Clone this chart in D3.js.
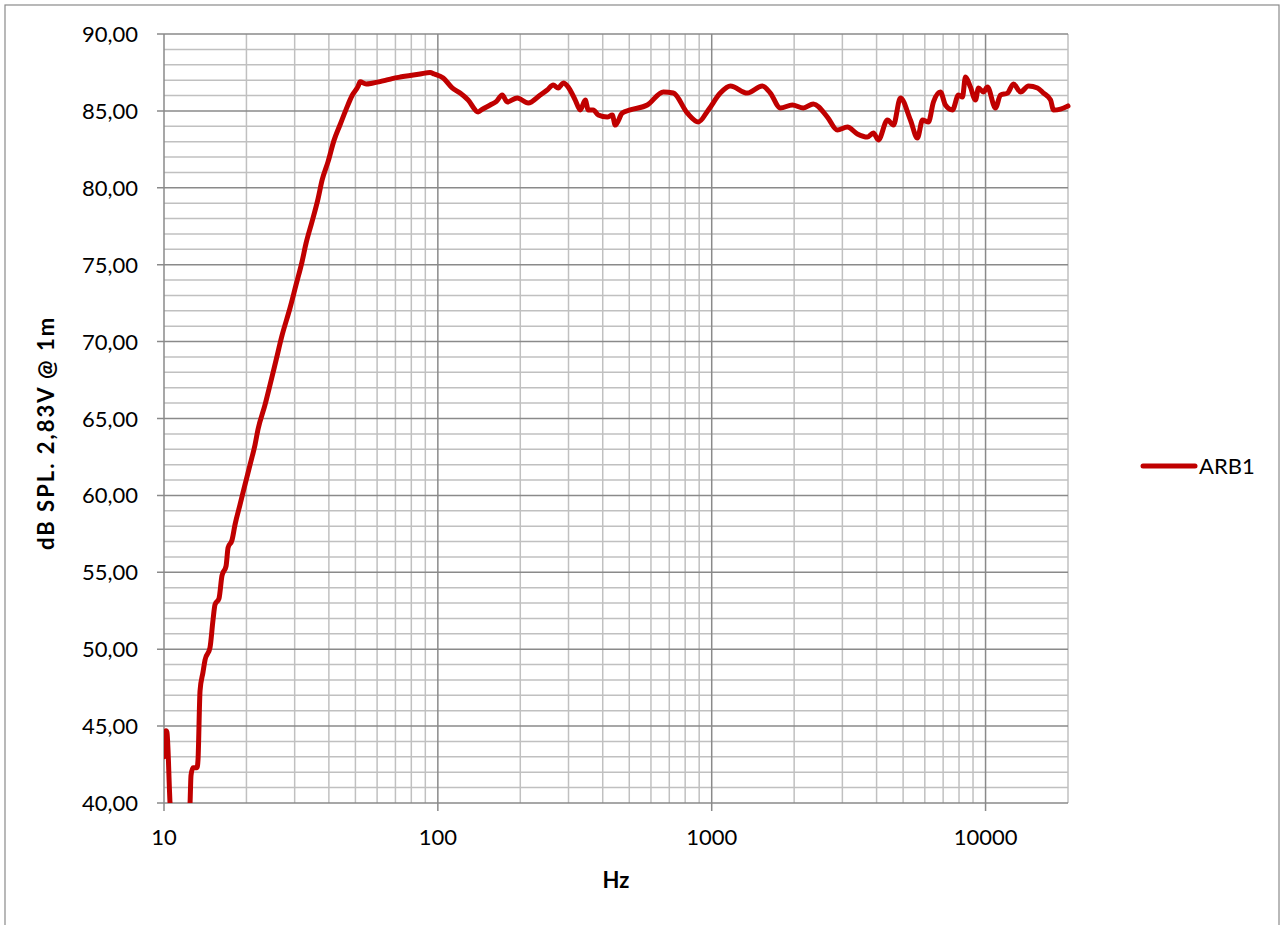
<!DOCTYPE html>
<html lang="en">
<head>
    <meta charset="UTF-8">
    <title>ARB1 frequency response</title>
    <script src="https://d3js.org/d3.v7.min.js"></script>
    <style>
        body { margin: 0; background: #fff; }
        svg text { font-family: Lato, "Noto Sans", sans-serif; fill: #000; }
        .grid-minor { stroke: #c0c0c0; stroke-width: 1.5px; }
        .grid-major { stroke: #8a8a8a; stroke-width: 1.5px; }
        .tick-lbl { font-size: 22px; }
        .axis-title { font-size: 22px; font-weight: bold; }
    </style>
</head>
<body>
<svg id="chart" width="1284" height="925"></svg>
<script>
    // frequency (Hz) and level (dB)
    let freq = [10, 10.17, 10.25, 10.52, 10.7, 11.5, 12.3, 12.45, 12.55, 12.76, 13.2, 13.31, 13.54, 13.88, 14.12,
        14.72, 15.1, 15.36, 15.88, 16.29, 16.85, 17.14, 17.72, 18.17, 18.95, 19.76, 20.62, 21.5, 22.05, 23.39,
        24.4, 25.66, 26.98, 28.87, 30.36, 31.93, 33.02, 34.72, 36.53, 37.78, 39.73, 41.79, 43.95, 46.24, 48.63,
        51.15, 52.02, 54.7, 57.54, 61.53, 64.72, 68.08, 72.81, 79.21, 86.16, 93.7, 97, 104.6, 112.8, 120.6,
        129, 140.3, 145.1, 155.3, 163.3, 171.8, 179.2, 194.9, 213.8, 236.5, 250.8, 263.8, 275.1, 287, 299.3,
        317.5, 331.1, 345.4, 354.2, 369.3, 385.3, 415.5, 433.4, 444.5, 471.4, 504.1, 581.8, 665.8, 724.1,
        814.5, 893.4, 971.8, 1075, 1170, 1349, 1530, 1637, 1781, 1970, 2161, 2350, 2645, 2876, 3129, 3404,
        3703, 3894, 4061, 4381, 4608, 4888, 5316, 5639, 5884, 6186, 6452, 6843, 7136, 7570, 7962, 8234,
        8446, 8807, 9186, 9422, 9824, 10160, 10870, 11335, 12023, 12646, 13415, 14346, 15475, 16275,
        17269, 17710, 18782, 20000];
    let spl = [43.0, 44.7, 44.6, 40.0, 38.0, 33.0, 38.0, 40.0, 41.8, 42.3, 42.3, 42.8, 47.3, 48.5, 49.3,
        50.1, 51.9, 52.9, 53.3, 54.8, 55.4, 56.6, 57.1, 58.1, 59.4, 60.7, 62.0, 63.3, 64.3, 65.9,
        67.2, 68.8, 70.4, 72.2, 73.7, 75.2, 76.4, 77.8, 79.3, 80.5, 81.7, 83.1, 84.1, 85.1, 86.0,
        86.6, 86.9, 86.75, 86.8, 86.9, 87.0, 87.1, 87.2, 87.3, 87.4, 87.5, 87.4, 87.14, 86.5, 86.16,
        85.71, 84.93, 85.1, 85.38, 85.6, 86.03, 85.58, 85.84, 85.51, 86.03, 86.36, 86.68, 86.49, 86.81, 86.55,
        85.7, 85.06, 85.71, 85.06, 85.06, 84.73, 84.6, 84.73, 84.08, 84.86, 85.06, 85.38, 86.23, 86.16,
        84.86, 84.28, 85.06, 86.16, 86.62, 86.16, 86.62, 86.16, 85.19, 85.38, 85.19, 85.45, 84.6, 83.76, 83.95, 83.5,
        83.3, 83.56, 83.11, 84.41, 84.08, 85.84, 84.41, 83.24, 84.41, 84.28, 85.58, 86.23, 85.38, 85.06, 86.03, 85.9,
        87.2, 86.55, 85.71, 86.49, 86.23, 86.55, 85.19, 86.03, 86.16, 86.75, 86.23, 86.62, 86.49, 86.16,
        85.71, 85.06, 85.12, 85.32];
    let yTicks = [40, 45, 50, 55, 60, 65, 70, 75, 80, 85, 90];
    let xTicks = [10, 100, 1000, 10000];
    let seriesName = "ARB1";
    let yTitle = "dB SPL. 2,83V @ 1m";
    let xTitle = "Hz";

    let svg = d3.select('#chart');
    let pLeft = 164, pRight = 1068, pTop = 34, pBottom = 803;

    let x = d3.scaleLog().domain([10, 20000]).range([pLeft, pRight]);
    let y = d3.scaleLinear().domain([40, 90]).range([pBottom, pTop]);

    // outer chart border
    svg.append('rect').attr('x', 5).attr('y', 5).attr('width', 1274).attr('height', 940)
        .attr('fill', 'none').attr('stroke', '#8a8a8a').attr('stroke-width', 1.2);

    let grid = svg.append('g');
    // minor horizontal lines every 1 dB
    let yMinor = d3.range(41, 90).filter(function (v) { return v % 5 !== 0; });
    grid.selectAll('line.hm').data(yMinor).enter().append('line')
        .attr('class', 'grid-minor')
        .attr('x1', pLeft).attr('x2', pRight)
        .attr('y1', function (d) { return y(d); }).attr('y2', function (d) { return y(d); });
    // minor vertical lines 2..9 per decade
    let xMinor = [];
    xTicks.forEach(function (dec) {
        for (let m = 2; m <= 9; m++) { if (dec * m <= 20000) xMinor.push(dec * m); }
    });
    grid.selectAll('line.vm').data(xMinor).enter().append('line')
        .attr('class', 'grid-minor')
        .attr('y1', pTop).attr('y2', pBottom)
        .attr('x1', function (d) { return x(d); }).attr('x2', function (d) { return x(d); });
    // major lines
    grid.selectAll('line.hM').data(yTicks).enter().append('line')
        .attr('class', 'grid-major')
        .attr('x1', pLeft - 7).attr('x2', pRight)
        .attr('y1', function (d) { return y(d); }).attr('y2', function (d) { return y(d); });
    grid.selectAll('line.vM').data(xTicks).enter().append('line')
        .attr('class', 'grid-major')
        .attr('y1', pTop).attr('y2', pBottom + 8)
        .attr('x1', function (d) { return x(d); }).attr('x2', function (d) { return x(d); });

    // tick labels
    svg.selectAll('text.yl').data(yTicks).enter().append('text')
        .attr('class', 'tick-lbl')
        .attr('x', 138).attr('y', function (d) { return y(d) + 8; })
        .attr('text-anchor', 'end')
        .text(function (d) { return d.toFixed(2).replace('.', ','); });
    svg.selectAll('text.xl').data(xTicks).enter().append('text')
        .attr('class', 'tick-lbl')
        .attr('x', function (d) { return x(d); }).attr('y', 845)
        .attr('text-anchor', 'middle')
        .text(function (d) { return d; });

    // axis titles
    svg.append('text').attr('class', 'axis-title')
        .attr('transform', 'translate(54,433) rotate(-90)')
        .attr('letter-spacing', 2)
        .attr('text-anchor', 'middle').text(yTitle);
    svg.append('text').attr('class', 'axis-title')
        .attr('x', 616).attr('y', 888).attr('text-anchor', 'middle').text(xTitle);

    // the curve, clipped to the plot area
    svg.append('clipPath').attr('id', 'plotClip').append('rect')
        .attr('x', pLeft).attr('y', pTop - 4).attr('width', pRight - pLeft + 4).attr('height', pBottom - pTop + 4);
    let data = freq.map(function (f, i) { return [f, spl[i]]; });
    let line = d3.line().x(function (d) { return x(d[0]); }).y(function (d) { return y(d[1]); })
        .curve(d3.curveMonotoneX);
    svg.append('path').datum(data)
        .attr('clip-path', 'url(#plotClip)')
        .attr('d', line)
        .attr('fill', 'none').attr('stroke', '#c00000').attr('stroke-width', 5)
        .attr('stroke-linejoin', 'round').attr('stroke-linecap', 'round');

    // legend
    svg.append('line').attr('x1', 1143).attr('x2', 1195).attr('y1', 466).attr('y2', 466)
        .attr('stroke', '#c00000').attr('stroke-width', 5).attr('stroke-linecap', 'round');
    svg.append('text').attr('class', 'tick-lbl').attr('x', 1199).attr('y', 474).text(seriesName);
</script>
</body>
</html>
